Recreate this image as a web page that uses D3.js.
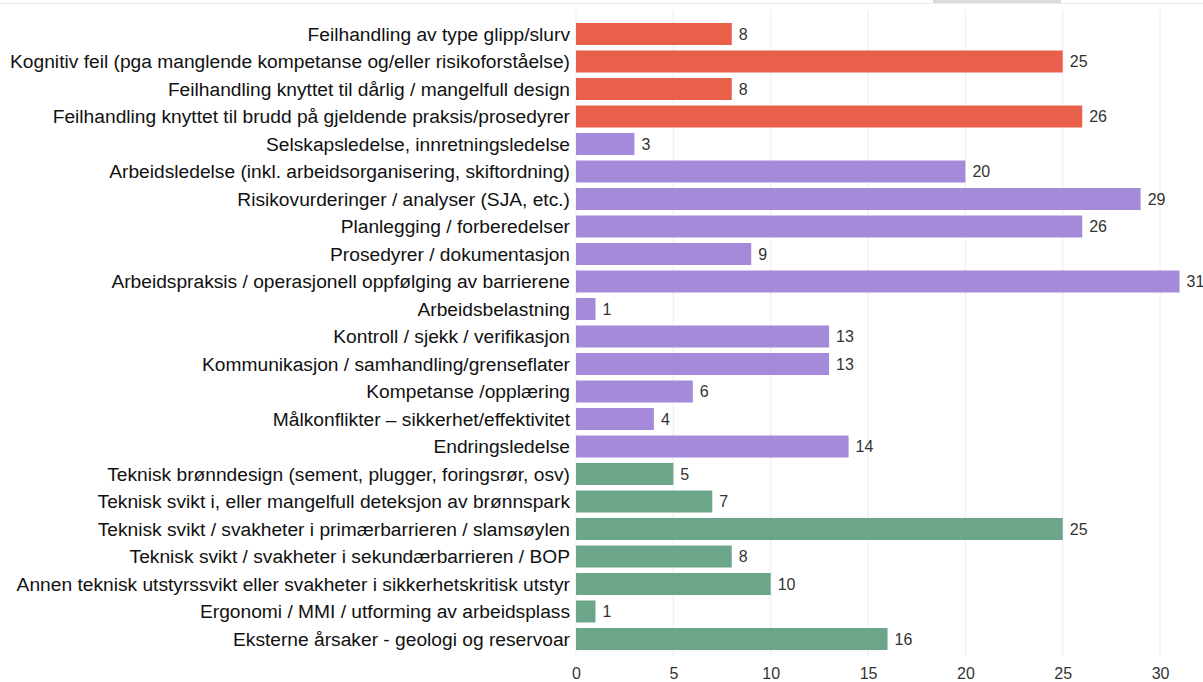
<!DOCTYPE html>
<html>
<head>
  <style>
    body {
      margin: 0;
      background: #fff;
      font-family: "Liberation Sans", Arial, sans-serif;
    }
    .cat { fill: #111; font-size: 19.2px; text-anchor: end; }
    .amount { fill: #333; font-size: 16px; }
    .x.axis .domain { display: none; }
    .x.axis text { fill: #333; font-size: 16px; }
  </style>
</head>
<body>
  <script src="https://d3js.org/d3.v7.min.js"></script>
  <script>
    var categories = [
      "Feilhandling av type glipp/slurv",
      "Kognitiv feil (pga manglende kompetanse og/eller risikoforståelse)",
      "Feilhandling knyttet til dårlig / mangelfull design",
      "Feilhandling knyttet til brudd på gjeldende praksis/prosedyrer",
      "Selskapsledelse, innretningsledelse",
      "Arbeidsledelse (inkl. arbeidsorganisering, skiftordning)",
      "Risikovurderinger / analyser (SJA, etc.)",
      "Planlegging / forberedelser",
      "Prosedyrer / dokumentasjon",
      "Arbeidspraksis / operasjonell oppfølging av barrierene",
      "Arbeidsbelastning",
      "Kontroll / sjekk / verifikasjon",
      "Kommunikasjon / samhandling/grenseflater",
      "Kompetanse /opplæring",
      "Målkonflikter – sikkerhet/effektivitet",
      "Endringsledelse",
      "Teknisk brønndesign (sement, plugger, foringsrør, osv)",
      "Teknisk svikt i, eller mangelfull deteksjon av brønnspark",
      "Teknisk svikt / svakheter i primærbarrieren / slamsøylen",
      "Teknisk svikt / svakheter i sekundærbarrieren / BOP",
      "Annen teknisk utstyrssvikt eller svakheter i sikkerhetskritisk utstyr",
      "Ergonomi / MMI / utforming av arbeidsplass",
      "Eksterne årsaker - geologi og reservoar"
    ];
    var values = [8, 25, 8, 26, 3, 20, 29, 26, 9, 31, 1, 13, 13, 6, 4, 14, 5, 7, 25, 8, 10, 1, 16];
    var groups = ["menneske", "menneske", "menneske", "menneske",
      "org", "org", "org", "org", "org", "org", "org", "org", "org", "org", "org", "org",
      "teknisk", "teknisk", "teknisk", "teknisk", "teknisk", "teknisk", "teknisk"];
    var xTicks = [0, 5, 10, 15, 20, 25, 30];

    var width = 1203, height = 682;

    var svg = d3.select("body").append("svg")
      .attr("width", width)
      .attr("height", height);

    var data = categories.map(function(d, i){
      return { name: d, value: values[i], group: groups[i] };
    });

    var x = d3.scaleLinear()
      .domain([0, 32])
      .range([576, 576 + 32 * 19.47]);

    var y = d3.scaleBand()
      .domain(categories)
      .range([20.25, 652.75])
      .paddingInner(0.2)
      .paddingOuter(0.1);

    var color = d3.scaleOrdinal()
      .domain(["menneske", "org", "teknisk"])
      .range(["#e8604a", "#a58ada", "#6ca68a"]);

    // cut-off strip at the top of the screenshot
    svg.append("line")
      .attr("x1", 0).attr("x2", width)
      .attr("y1", 3.5).attr("y2", 3.5)
      .attr("stroke", "#ececec");
    svg.append("rect")
      .attr("x", 933).attr("y", 0)
      .attr("width", 128).attr("height", 3)
      .attr("fill", "#dcdcdf");

    // gridlines
    svg.append("g")
      .selectAll("line")
      .data(xTicks)
      .enter().append("line")
        .attr("x1", function(d){ return x(d); })
        .attr("x2", function(d){ return x(d); })
        .attr("y1", 10)
        .attr("y2", 656)
        .attr("stroke", "#ebebeb");

    svg.append("g")
      .attr("class", "x axis")
      .attr("transform", "translate(0,659)")
      .call(d3.axisBottom(x).tickValues(xTicks).tickSize(0).tickPadding(5))
      .call(function(g){ g.selectAll(".tick text").attr("dy", "0.95em"); });

    svg.selectAll(".bar")
      .data(data)
      .enter().append("rect")
        .attr("class", "bar")
        .attr("x", x(0))
        .attr("y", function(d){ return y(d.name); })
        .attr("width", function(d){ return x(d.value) - x(0); })
        .attr("height", y.bandwidth())
        .attr("fill", function(d){ return color(d.group); });

    svg.selectAll(".cat")
      .data(data)
      .enter().append("text")
        .attr("class", "cat")
        .attr("x", x(0) - 6)
        .attr("y", function(d){ return y(d.name) + y.bandwidth() / 2; })
        .attr("dy", "0.36em")
        .text(function(d){ return d.name; });

    svg.selectAll(".amount")
      .data(data)
      .enter().append("text")
        .attr("class", "amount")
        .attr("x", function(d){ return x(d.value) + 7; })
        .attr("y", function(d){ return y(d.name) + y.bandwidth() / 2; })
        .attr("dy", "0.36em")
        .text(function(d){ return d.value; });
  </script>
</body>
</html>
